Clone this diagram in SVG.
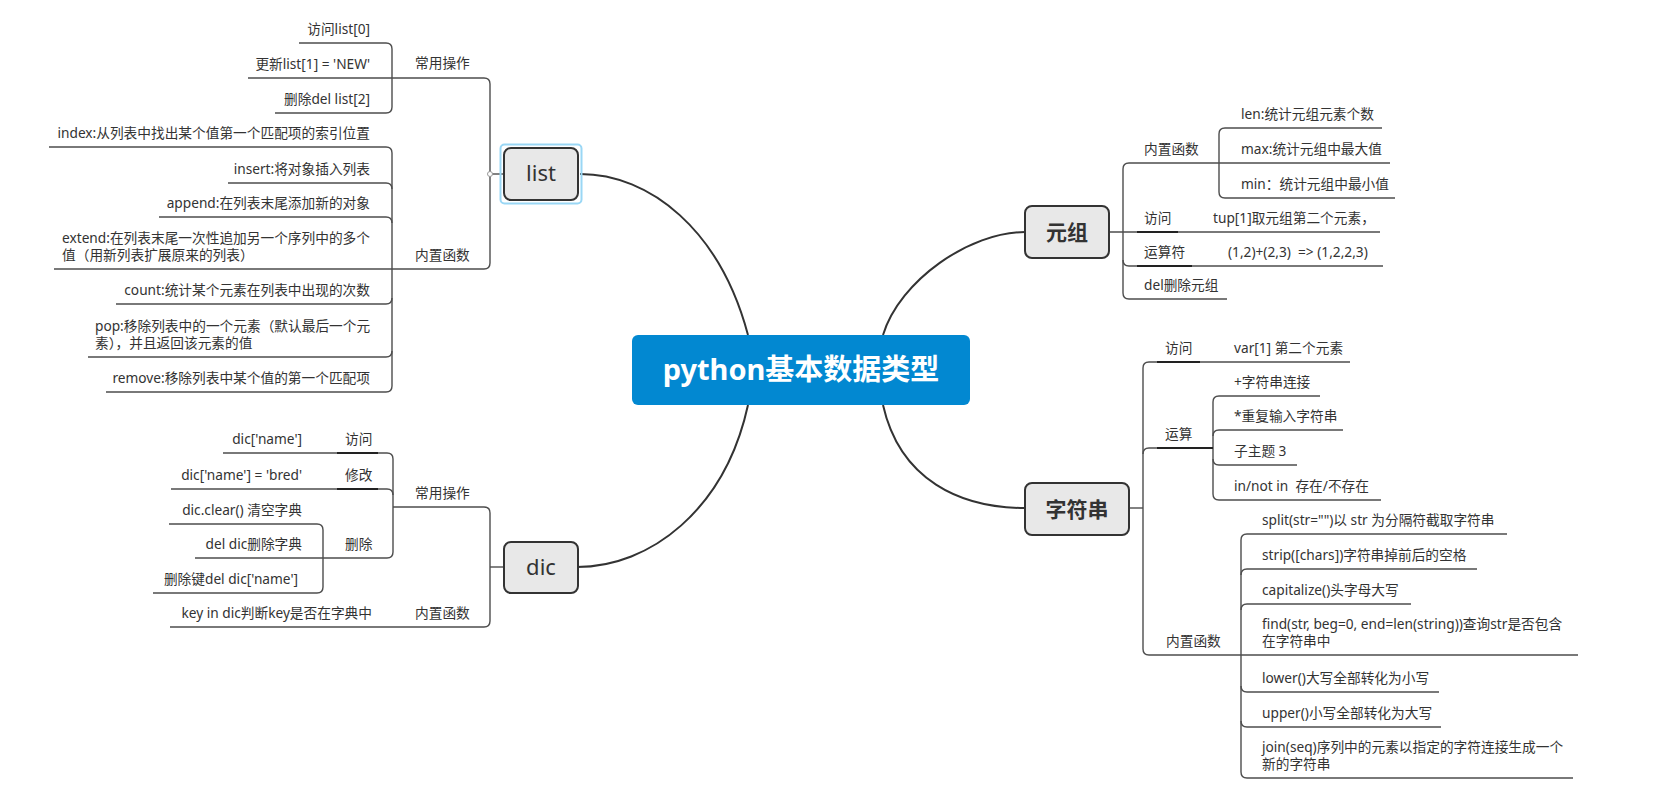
<svg xmlns="http://www.w3.org/2000/svg" width="1670" height="809" viewBox="0 0 1670 809">
<style>
text{font-family:"Noto Sans","Noto Sans CJK SC",sans-serif;fill:#333;font-size:13.7px}
.e{text-anchor:end}
.m{text-anchor:middle}
.pre{white-space:pre}
.ln{fill:none;stroke:#4d4d4d;stroke-width:1.4}
.ul{fill:none;stroke:#222;stroke-width:2}
.cv{fill:none;stroke:#333;stroke-width:2}
.box{fill:#e8e8e8;stroke:#333;stroke-width:2}
.mt{font-size:22px}
.mtb{font-size:21px;font-weight:bold}
</style>
<rect width="1670" height="809" fill="#fff"/>
<g id="connectors">
<path class="cv" d="M580,174C650,174 720,230 748,335"/>
<path class="cv" d="M1025,232C970,232 900,280 883,335"/>
<path class="cv" d="M577,567C650,567 725,510 748,405"/>
<path class="cv" d="M1025,508C960,508 900,480 883,405"/>
<!-- list -->
<path class="ln" d="M504,174H490"/>
<path class="ln" d="M248,78H484Q490,78 490,84V263Q490,269 484,269H54"/>
<path class="ln" d="M299,43H386Q392,43 392,49V107Q392,113 386,113H275"/>
<path class="ln" d="M49,147H386Q392,147 392,153V386Q392,392 386,392H106"/>
<path class="ln" d="M228,183H386Q392,183 392,189"/>
<path class="ln" d="M159,217H386Q392,217 392,223"/>
<path class="ln" d="M116,304H386Q392,304 392,298"/>
<path class="ln" d="M88,357H386Q392,357 392,351"/>
<circle cx="490" cy="174" r="2.5" fill="#fff" stroke="#999" stroke-width="1"/>
<!-- dic -->
<path class="ln" d="M504,567H490"/>
<path class="ln" d="M393,507H484Q490,507 490,513V621Q490,627 484,627H170"/>
<path class="ln" d="M223,453H387Q393,453 393,459V552Q393,558 387,558H195"/>
<path class="ln" d="M171,489H387Q393,489 393,495"/>
<path class="ln" d="M169,524H317Q323,524 323,530V587Q323,593 317,593H153"/>
<path class="ul" d="M337,453H378M337,489H378"/>
<!-- tuple -->
<path class="ln" d="M1109,232H1380"/>
<path class="ln" d="M1219,163H1129Q1123,163 1123,169V293Q1123,299 1129,299H1227"/>
<path class="ln" d="M1123,260Q1123,266 1129,266H1383"/>
<path class="ln" d="M1382,128H1225Q1219,128 1219,134V192Q1219,198 1225,198H1395"/>
<path class="ln" d="M1219,163H1390"/>
<path class="ul" d="M1137,232H1178M1137,266H1192"/>
<!-- string -->
<path class="ln" d="M1129,508H1143"/>
<path class="ln" d="M1350,362H1149Q1143,362 1143,368V649Q1143,655 1149,655H1578"/>
<path class="ln" d="M1213,448H1149Q1143,448 1143,454"/>
<path class="ln" d="M1320,396H1219Q1213,396 1213,402V494Q1213,500 1219,500H1381"/>
<path class="ln" d="M1343,430H1219Q1213,430 1213,436"/>
<path class="ln" d="M1213,459Q1213,465 1219,465H1297"/>
<path class="ln" d="M1507,534H1247Q1241,534 1241,540V772Q1241,778 1247,778H1573"/>
<path class="ln" d="M1477,569H1247Q1241,569 1241,575"/>
<path class="ln" d="M1411,604H1247Q1241,604 1241,610"/>
<path class="ln" d="M1241,686Q1241,692 1247,692H1439"/>
<path class="ln" d="M1241,721Q1241,727 1247,727H1441"/>
<path class="ul" d="M1157,362H1200M1157,448H1213"/>
</g>

<g id="root">
<rect x="632" y="335" width="338" height="70" rx="6" fill="#0288d1"/>
<text x="801" y="380" class="m" style="font-size:29px;font-weight:bold;fill:#fff">python基本数据类型</text>
</g>

<g id="list">
<rect x="500.5" y="144.5" width="81" height="59" rx="4" fill="none" stroke="#9ad7f5" stroke-width="2"/>
<rect class="box" x="504" y="148" width="74" height="52" rx="7"/>
<text class="m mt" x="541" y="181">list</text>
</g>
<g id="list-ops"><text x="415" y="68">常用操作</text></g>
<g id="list-op1"><text class="e" x="370" y="34">访问list[0]</text></g>
<g id="list-op2"><text class="e" x="370" y="69">更新list[1] = 'NEW'</text></g>
<g id="list-op3"><text class="e" x="370" y="104">删除del list[2]</text></g>
<g id="list-funcs"><text x="415" y="260">内置函数</text></g>
<g id="list-f1"><text class="e" x="370" y="138">index:从列表中找出某个值第一个匹配项的索引位置</text></g>
<g id="list-f2"><text class="e" x="370" y="174">insert:将对象插入列表</text></g>
<g id="list-f3"><text class="e" x="370" y="208">append:在列表末尾添加新的对象</text></g>
<g id="list-f4"><text x="62" y="243">extend:在列表末尾一次性追加另一个序列中的多个</text><text x="62" y="260">值（用新列表扩展原来的列表）</text></g>
<g id="list-f5"><text class="e" x="370" y="295">count:统计某个元素在列表中出现的次数</text></g>
<g id="list-f6"><text x="95" y="331">pop:移除列表中的一个元素（默认最后一个元</text><text x="95" y="348">素），并且返回该元素的值</text></g>
<g id="list-f7"><text class="e" x="370" y="383">remove:移除列表中某个值的第一个匹配项</text></g>

<g id="dic">
<rect class="box" x="504" y="542" width="74" height="51" rx="7"/>
<text class="m mt" x="541" y="575">dic</text>
</g>
<g id="dic-ops"><text x="415" y="498">常用操作</text></g>
<g id="dic-visit"><text x="345" y="444">访问</text></g>
<g id="dic-visit1"><text class="e" x="302" y="444">dic['name']</text></g>
<g id="dic-mod"><text x="345" y="480">修改</text></g>
<g id="dic-mod1"><text class="e" x="302" y="480">dic['name'] = 'bred'</text></g>
<g id="dic-del"><text x="345" y="549">删除</text></g>
<g id="dic-del1"><text class="e" x="302" y="515">dic.clear() 清空字典</text></g>
<g id="dic-del2"><text class="e" x="302" y="549">del dic删除字典</text></g>
<g id="dic-del3"><text class="e" x="298" y="584">删除键del dic['name']</text></g>
<g id="dic-funcs"><text x="415" y="618">内置函数</text></g>
<g id="dic-f1"><text class="e" x="372" y="618">key in dic判断key是否在字典中</text></g>

<g id="tuple">
<rect class="box" x="1025" y="206" width="84" height="52" rx="7"/>
<text class="m mtb" x="1067" y="240">元组</text>
</g>
<g id="tuple-funcs"><text x="1144" y="154">内置函数</text></g>
<g id="tuple-f1"><text x="1241" y="119">len:统计元组元素个数</text></g>
<g id="tuple-f2"><text x="1241" y="154">max:统计元组中最大值</text></g>
<g id="tuple-f3"><text x="1241" y="189">min：统计元组中最小值</text></g>
<g id="tuple-visit"><text x="1144" y="223">访问</text></g>
<g id="tuple-visit1"><text x="1213" y="223">tup[1]取元组第二个元素，</text></g>
<g id="tuple-op"><text x="1144" y="257">运算符</text></g>
<g id="tuple-op1"><text class="pre" xml:space="preserve" x="1228" y="257">(1,2)+(2,3)  =&gt; (1,2,2,3)</text></g>
<g id="tuple-del"><text x="1144" y="290">del删除元组</text></g>

<g id="string">
<rect class="box" x="1025" y="483" width="104" height="52" rx="7"/>
<text class="m mtb" x="1077" y="517">字符串</text>
</g>
<g id="str-visit"><text x="1165" y="353">访问</text></g>
<g id="str-visit1"><text x="1234" y="353">var[1] 第二个元素</text></g>
<g id="str-op"><text x="1165" y="439">运算</text></g>
<g id="str-op1"><text x="1234" y="387">+字符串连接</text></g>
<g id="str-op2"><text x="1234" y="421">*重复输入字符串</text></g>
<g id="str-op3"><text x="1234" y="456">子主题 3</text></g>
<g id="str-op4"><text class="pre" xml:space="preserve" x="1234" y="491">in/not in  存在/不存在</text></g>
<g id="str-funcs"><text x="1166" y="646">内置函数</text></g>
<g id="str-f1"><text x="1262" y="525">split(str="")以 str 为分隔符截取字符串</text></g>
<g id="str-f2"><text x="1262" y="560">strip([chars])字符串掉前后的空格</text></g>
<g id="str-f3"><text x="1262" y="595">capitalize()头字母大写</text></g>
<g id="str-f4"><text x="1262" y="629">find(str, beg=0, end=len(string))查询str是否包含</text><text x="1262" y="646">在字符串中</text></g>
<g id="str-f5"><text x="1262" y="683">lower()大写全部转化为小写</text></g>
<g id="str-f6"><text x="1262" y="718">upper()小写全部转化为大写</text></g>
<g id="str-f7"><text x="1262" y="752">join(seq)序列中的元素以指定的字符连接生成一个</text><text x="1262" y="769">新的字符串</text></g>
</svg>
